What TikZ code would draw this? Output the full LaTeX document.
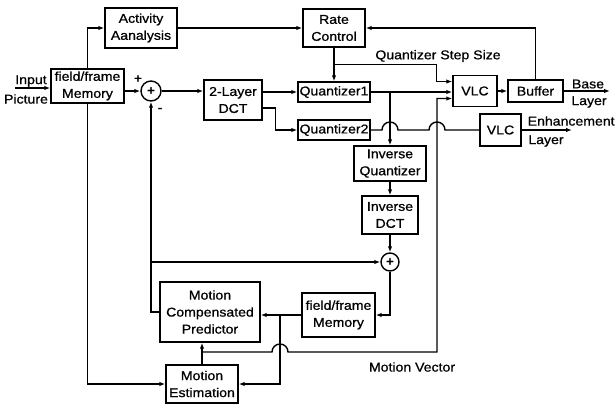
\documentclass[tikz,border=0pt]{standalone}
\usepackage{fontspec}
\setmainfont{Liberation Sans}[FakeStretch=1.1,FakeBold=0.8]
\usepackage{tikz}
\usetikzlibrary{arrows.meta,calc}

\begin{document}
\begin{tikzpicture}[x=1pt,y=1pt,line width=1.4pt,
  blk/.style 2 args={draw,rectangle,inner sep=0pt,align=center,
    minimum width=#1,minimum height=#2,font=\fontsize{12.8}{17}\selectfont},
  adder/.style={draw,circle,inner sep=0pt,minimum size=#1,
    font=\fontsize{12}{12}\selectfont\bfseries},
  lbl/.style={inner sep=0pt,font=\fontsize{12.8}{15}\selectfont},
  >={Latex[length=6pt,width=4.5pt]}]

\useasboundingbox (0,0) rectangle (615,-405);

% blocks
\node[blk={72pt}{40pt}] (act) at (141,-28) {Activity\\Aanalysis};
\node[blk={62pt}{38pt}] (rate) at (334,-28) {Rate\\Control};
\node[blk={73pt}{34pt}] (mem1) at (87.5,-86) {field/frame\\Memory};
\node[adder=20pt] (sum1) at (151,-91) {+};
\node[blk={58pt}{40pt}] (dct) at (233,-100) {2-Layer\\DCT};
\node[blk={72pt}{20pt}] (q1) at (334,-92) {Quantizer1};
\node[blk={72pt}{20pt}] (q2) at (334,-130) {Quantizer2};
\node[blk={44pt}{31pt}] (vlc1) at (475,-91) {VLC};
\node[blk={55pt}{22pt}] (buf) at (535.5,-91) {Buffer};
\node[blk={41pt}{32pt}] (vlc2) at (500.5,-130) {VLC};
\node[blk={72pt}{35pt}] (iq) at (390,-163.5) {Inverse\\Quantizer};
\node[blk={56pt}{38pt}] (idct) at (390,-215) {Inverse\\DCT};
\node[adder=18pt] (sum2) at (390,-262) {+};
\node[blk={73pt}{44pt}] (mem2) at (338.5,-315) {field/frame\\Memory};
\node[blk={100pt}{60pt}] (mcp) at (210,-312) {Motion\\Compensated\\Predictor};
\node[blk={72pt}{38pt}] (me) at (202,-384) {Motion\\Estimation};

% labels
\node[lbl] (inl1) at (31,-81) {Input};
\node[lbl] (inl2) at (26,-99) {Picture};
\node[lbl] (plus) at (138,-79) {+};
\node[lbl] (minus) at (160,-110) {-};
\node[lbl] (ssl) at (438,-56) {Quantizer Step Size};
\node[lbl] (basel1) at (588,-84) {Base};
\node[lbl] (basel2) at (589,-102) {Layer};
\node[lbl,anchor=west] (enhl1) at (527,-121) {Enhancement};
\node[lbl] (enhl2) at (546,-141) {Layer};
\node[lbl] (mvl) at (412,-367) {Motion Vector};

% connectors
\coordinate (inp) at (15,-88);
\draw[->] (inp) -- (inp -| mem1.west);
\draw[->] (mem1.north) |- (act.west);
\draw[->] (act.east) -- (rate.west);
\draw[->] (mem1.east |- sum1.west) -- (sum1.west);
\draw[->] (sum1.east) -- (sum1.east -| dct.west);
\draw[->] (dct.east |- q1.west) -- (q1.west);
\draw[->] ($(dct.east)+(0,-8)$) -- ++(13,0) |- (q2.west);
\draw[->] (rate.south) -- (q1.north);

\coordinate (ssplit) at ($(rate.south)+(0,-17)$);
\coordinate (ssin) at ($(vlc1.west)+(0,9.5)$);
\draw[->] (ssplit) -| ($(ssin)+(-16,0)$) -- (ssin);
\draw[->] (q1.east) -- (q1.east -| vlc1.west);
\draw[->] (iq.north |- q1.east) -- (iq.north);
\draw (q2.east) -- (382,-130) arc[start angle=180,end angle=0,radius=8]
  -- (429,-130) arc[start angle=180,end angle=0,radius=8] -- (q2.east -| vlc2.west);

\coordinate (bout) at (610,-91);
\coordinate (eout) at (572,-130);
\draw[->] (vlc1.east) -- (buf.west);
\draw[->] (buf.east) -- (bout);
\draw[->] (buf.north) |- (rate.east);
\draw[->] (vlc2.east) -- (eout);

\draw[->] (iq.south) -- (idct.north);
\draw[->] (idct.south) -- (sum2.north);
\draw[->] (sum2.south) |- (mem2.east);
\draw[->] (mem2.west) -- (mem2.west -| mcp.east);

\coordinate (mesplit) at (280,-315);
\draw[->] (mesplit) |- (me.east);
\draw[->] (me.north) -- (me.north |- mcp.south);

\coordinate (mvs) at (202,-352);
\coordinate (mvin) at ($(vlc1.west)+(0,-7.5)$);
\draw[->] (mvs) -- (272,-352) arc[start angle=180,end angle=0,radius=8]
  -- (437,-352) |- (mvin);

\draw[->] (mem1.south) |- (me.west);
\draw[->] (mcp.west) -| (sum1.south);
\coordinate (fb) at (sum1.south |- sum2.west);
\draw[->] (fb) -- (sum2.west);

\end{tikzpicture}
\end{document}
